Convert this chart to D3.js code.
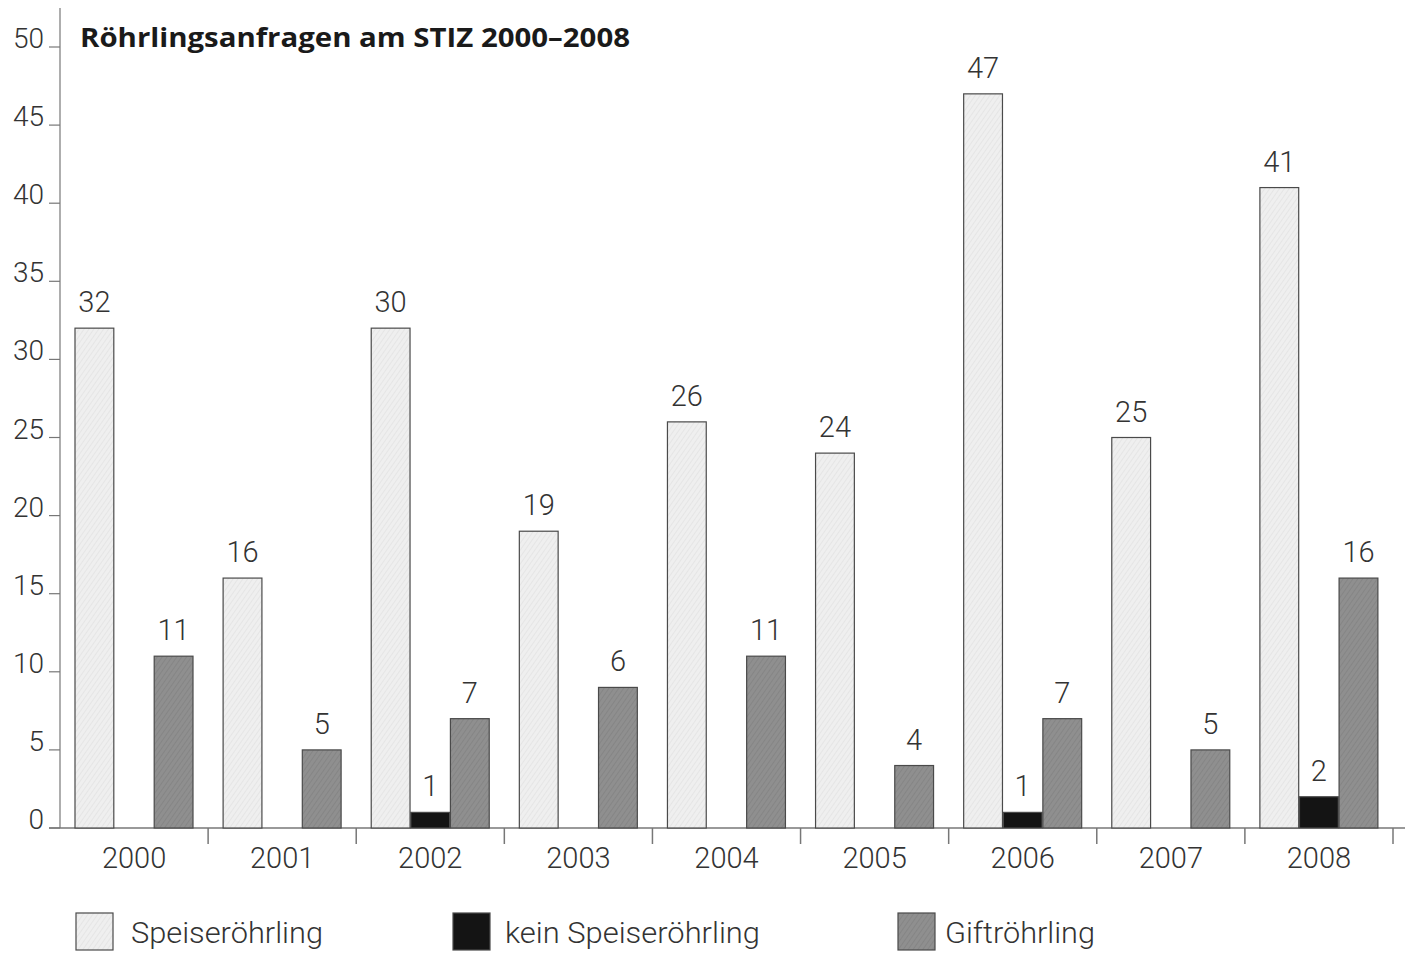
<!DOCTYPE html>
<html><head><meta charset="utf-8">
<script src="https://cdn.jsdelivr.net/npm/d3@7"></script>
<style>
html,body{margin:0;padding:0;background:#fff;}
svg{display:block;}
.lt{font-family:"Roboto","Liberation Sans Narrow","DejaVu Sans Condensed",sans-serif;font-weight:300;fill:#333;}
.ttl{font-family:"Open Sans","Noto Sans",sans-serif;font-weight:700;fill:#1a1a1a;}
</style></head>
<body>
<script>
const years = ["2000","2001","2002","2003","2004","2005","2006","2007","2008"];
const seriesNames = ["Speiseröhrling","kein Speiseröhrling","Giftröhrling"];
// bar heights as drawn
const speise = [32,16,32,19,26,24,47,25,41];
const kein   = [0,0,1,0,0,0,1,0,2];
const gift   = [11,5,7,9,11,4,7,5,16];
// printed value labels
const speiseLabels = ["32","16","30","19","26","24","47","25","41"];
const keinLabels   = ["","","1","","","","1","","2"];
const giftLabels   = ["11","5","7","6","11","4","7","5","16"];
const yTicks = [0,5,10,15,20,25,30,35,40,45,50];
const title = "Röhrlingsanfragen am STIZ 2000–2008";

const W=1405,H=953;
const svg=d3.select("body").append("svg").attr("width",W).attr("height",H);
const defs=svg.append("defs");
function pat(id,base,line){
  const p=defs.append("pattern").attr("id",id).attr("patternUnits","userSpaceOnUse")
    .attr("width",4).attr("height",4).attr("patternTransform","rotate(35)");
  p.append("rect").attr("width",4).attr("height",4).attr("fill",base);
  p.append("line").attr("x1",0).attr("y1",0).attr("x2",0).attr("y2",4).attr("stroke",line).attr("stroke-width",1);
}
pat("pS","#efefef","#dcdcdc");
pat("pG","#8f8f8f","#7c7c7c");
const fills=["url(#pS)","#141414","url(#pG)"];

const x=d3.scaleBand().domain(years).range([60,1393]).padding(0);
const xi=d3.scaleBand().domain(seriesNames).range([15,133]).paddingInner(0.02);
const y=d3.scaleLinear().domain([0,50]).range([828,47]);

const data=years.map((yr,i)=>({yr,vals:[speise[i],kein[i],gift[i]],labs:[speiseLabels[i],keinLabels[i],giftLabels[i]]}));

// axes
const g=svg.append("g");
g.append("line").attr("x1",60).attr("x2",60).attr("y1",8).attr("y2",y(0)).attr("stroke","#777").attr("stroke-width",1.2);
g.append("line").attr("x1",49).attr("x2",1405).attr("y1",y(0)).attr("y2",y(0)).attr("stroke","#777").attr("stroke-width",1.5);
const yt=g.selectAll(".yt").data(yTicks).enter().append("g");
yt.append("line").attr("x1",49).attr("x2",60).attr("y1",d=>y(d)).attr("y2",d=>y(d)).attr("stroke","#777").attr("stroke-width",1.2);
yt.append("text").attr("class","lt").attr("x",44).attr("y",d=>y(d)+1).attr("text-anchor","end")
  .attr("font-size",28).text(d=>d);
// group separators
g.selectAll(".sep").data(years).enter().append("line")
  .attr("x1",d=>x(d)+x.bandwidth()).attr("x2",d=>x(d)+x.bandwidth())
  .attr("y1",y(0)).attr("y2",y(0)+16).attr("stroke","#777").attr("stroke-width",1.5);
g.selectAll(".yl").data(years).enter().append("text").attr("class","lt")
  .attr("x",d=>x(d)+x.bandwidth()/2).attr("y",868).attr("text-anchor","middle")
  .attr("font-size",29).text(d=>d);

// bars
const grp=svg.selectAll(".grp").data(data).enter().append("g").attr("transform",d=>`translate(${x(d.yr)},0)`);
grp.each(function(d){
  const s=d3.select(this);
  d.vals.forEach((v,k)=>{
    if(v<=0) return;
    s.append("rect").attr("x",xi(seriesNames[k])).attr("width",xi.bandwidth())
      .attr("y",y(v)).attr("height",y(0)-y(v))
      .attr("fill",fills[k]).attr("stroke","#4a4a4a").attr("stroke-width",1.2);
    s.append("text").attr("class","lt").attr("x",xi(seriesNames[k])+xi.bandwidth()/2)
      .attr("y",y(v)-16).attr("text-anchor","middle").attr("font-size",29).text(d.labs[k]);
  });
});

// title
svg.append("text").attr("class","ttl").attr("x",80).attr("y",47).attr("font-size",27)
  .attr("textLength",550).attr("lengthAdjust","spacingAndGlyphs").text(title);

// legend
const legX=[76,453,898];
const legW=[192,255,150];
const lg=svg.selectAll(".lg").data(seriesNames).enter().append("g");
lg.append("rect").attr("x",(d,i)=>legX[i]).attr("y",913).attr("width",37).attr("height",37)
  .attr("fill",(d,i)=>fills[i]).attr("stroke","#4a4a4a").attr("stroke-width",1.2);
lg.append("text").attr("class","lt").attr("x",(d,i)=>legX[i]+[55,52,47][i]).attr("y",943)
  .attr("font-size",29).attr("textLength",(d,i)=>legW[i]).attr("lengthAdjust","spacingAndGlyphs").text(d=>d);
</script>
</body></html>
